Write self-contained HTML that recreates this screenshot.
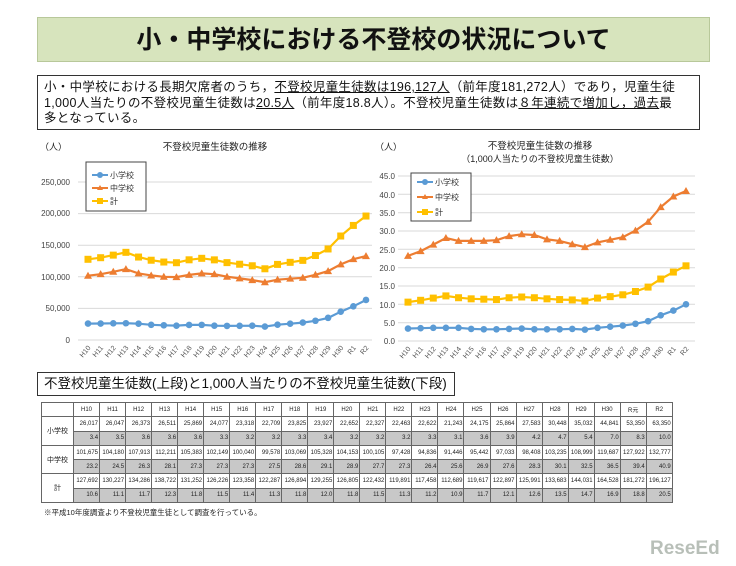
<!DOCTYPE html>
<html><head><meta charset="utf-8">
<style>
body{margin:0;width:736px;height:566px;background:#fff;font-family:"Liberation Sans","Noto Sans CJK JP",sans-serif;position:relative;overflow:hidden}
.title{position:absolute;left:37px;top:17px;width:673px;height:45px;background:#d7e4bd;border:1px solid #b8c89a;box-sizing:border-box;text-align:center;font-size:25px;font-weight:bold;line-height:44px;color:#111}
.sum{position:absolute;left:37px;top:75px;width:663px;height:55px;border:1.5px solid #333;box-sizing:border-box;font-size:12.5px;line-height:15.5px;padding:4px 6px;color:#111;white-space:nowrap;letter-spacing:0.3px}
.sum u{text-decoration:underline}
.th{position:absolute;left:37px;top:372px;width:418px;height:24px;border:1.5px solid #333;box-sizing:border-box;font-size:13.5px;line-height:21px;padding-left:6px;color:#111;white-space:nowrap}
table{position:absolute;left:41px;top:402px;border-collapse:collapse;font-size:6px;color:#222;table-layout:fixed;width:631px}
td{border:1px solid #666;height:13.3px;padding:0 1px;text-align:right;overflow:hidden;white-space:nowrap}
td.h{text-align:center}
td.l{text-align:center;font-size:7px}
tr.g td:not(.l){background:#c8c8c8}
.note{position:absolute;left:44px;top:507px;font-size:7.5px;color:#222}
.logo{position:absolute;left:650px;top:538px;font-size:19px;font-weight:bold;color:#b8bfb8}
</style></head><body>
<div class="title">小・中学校における不登校の状況について</div>
<div class="sum">小・中学校における長期欠席者のうち，<u>不登校児童生徒数は196,127人</u>（前年度181,272人）であり，児童生徒<br>1,000人当たりの不登校児童生徒数は<u>20.5人</u>（前年度18.8人）。不登校児童生徒数は<u>８年連続で増加し，過去</u>最<br>多となっている。</div>

<svg width="736" height="566" style="position:absolute;left:0;top:0" font-family="Liberation Sans, Noto Sans CJK JP, sans-serif">
<g stroke="#d9d9d9" stroke-width="1">
<line x1="78" x2="372" y1="340" y2="340"/><line x1="78" x2="372" y1="308.4" y2="308.4"/><line x1="78" x2="372" y1="276.8" y2="276.8"/><line x1="78" x2="372" y1="245.2" y2="245.2"/><line x1="78" x2="372" y1="213.6" y2="213.6"/><line x1="78" x2="372" y1="182" y2="182"/>
<line x1="398" x2="695" y1="341" y2="341"/><line x1="398" x2="695" y1="322.7" y2="322.7"/><line x1="398" x2="695" y1="304.3" y2="304.3"/><line x1="398" x2="695" y1="286" y2="286"/><line x1="398" x2="695" y1="267.7" y2="267.7"/><line x1="398" x2="695" y1="249.3" y2="249.3"/><line x1="398" x2="695" y1="231" y2="231"/><line x1="398" x2="695" y1="212.7" y2="212.7"/><line x1="398" x2="695" y1="194.3" y2="194.3"/><line x1="398" x2="695" y1="176" y2="176"/>
</g>
<g font-size="8" fill="#444" text-anchor="end">
<text x="70" y="343">0</text><text x="70" y="311">50,000</text><text x="70" y="280">100,000</text><text x="70" y="248">150,000</text><text x="70" y="216">200,000</text><text x="70" y="185">250,000</text>
<text x="395" y="344">0.0</text><text x="395" y="326">5.0</text><text x="395" y="308">10.0</text><text x="395" y="289">15.0</text><text x="395" y="271">20.0</text><text x="395" y="253">25.0</text><text x="395" y="234">30.0</text><text x="395" y="216">35.0</text><text x="395" y="198">40.0</text><text x="395" y="179">45.0</text>
</g>
<g font-size="9" fill="#222">
<text x="40" y="150">（人）</text><text x="375" y="150">（人）</text>
<text x="215" y="150" text-anchor="middle" font-size="9.5">不登校児童生徒数の推移</text>
<text x="540" y="149" text-anchor="middle" font-size="9.5">不登校児童生徒数の推移</text>
<text x="540" y="162" text-anchor="middle">（1,000人当たりの不登校児童生徒数）</text>
</g>
<g id="series"></g>
<g font-size="8" fill="#333">
<rect x="86" y="162" width="60" height="49" fill="#fff" stroke="#444"/>
<line x1="92" x2="108" y1="175" y2="175" stroke="#5b9bd5" stroke-width="2"/><circle cx="100" cy="175" r="3" fill="#5b9bd5"/><text x="110" y="178">小学校</text>
<line x1="92" x2="108" y1="188" y2="188" stroke="#ed7d31" stroke-width="2"/><path d="M100 185l3 5h-6z" fill="#ed7d31"/><text x="110" y="191">中学校</text>
<line x1="92" x2="108" y1="201" y2="201" stroke="#ffc000" stroke-width="2"/><rect x="97" y="198" width="6" height="6" fill="#ffc000"/><text x="110" y="204">計</text>
<rect x="411" y="173" width="60" height="48" fill="#fff" stroke="#444"/>
<line x1="417" x2="433" y1="182" y2="182" stroke="#5b9bd5" stroke-width="2"/><circle cx="425" cy="182" r="3" fill="#5b9bd5"/><text x="435" y="185">小学校</text>
<line x1="417" x2="433" y1="197" y2="197" stroke="#ed7d31" stroke-width="2"/><path d="M425 194l3 5h-6z" fill="#ed7d31"/><text x="435" y="200">中学校</text>
<line x1="417" x2="433" y1="212" y2="212" stroke="#ffc000" stroke-width="2"/><rect x="422" y="209" width="6" height="6" fill="#ffc000"/><text x="435" y="215">計</text>
</g>
<g font-size="7" fill="#555" text-anchor="end">
<text transform="translate(91,348) rotate(-50)">H10</text><text transform="translate(103.6,348) rotate(-50)">H11</text><text transform="translate(116.3,348) rotate(-50)">H12</text><text transform="translate(128.9,348) rotate(-50)">H13</text><text transform="translate(141.5,348) rotate(-50)">H14</text><text transform="translate(154.2,348) rotate(-50)">H15</text><text transform="translate(166.8,348) rotate(-50)">H16</text><text transform="translate(179.5,348) rotate(-50)">H17</text><text transform="translate(192.1,348) rotate(-50)">H18</text><text transform="translate(204.7,348) rotate(-50)">H19</text><text transform="translate(217.4,348) rotate(-50)">H20</text><text transform="translate(230,348) rotate(-50)">H21</text><text transform="translate(242.6,348) rotate(-50)">H22</text><text transform="translate(255.3,348) rotate(-50)">H23</text><text transform="translate(267.9,348) rotate(-50)">H24</text><text transform="translate(280.5,348) rotate(-50)">H25</text><text transform="translate(293.2,348) rotate(-50)">H26</text><text transform="translate(305.8,348) rotate(-50)">H27</text><text transform="translate(318.5,348) rotate(-50)">H28</text><text transform="translate(331.1,348) rotate(-50)">H29</text><text transform="translate(343.7,348) rotate(-50)">H30</text><text transform="translate(356.4,348) rotate(-50)">R1</text><text transform="translate(369,348) rotate(-50)">R2</text>
<text transform="translate(411,349) rotate(-50)">H10</text><text transform="translate(423.6,349) rotate(-50)">H11</text><text transform="translate(436.3,349) rotate(-50)">H12</text><text transform="translate(448.9,349) rotate(-50)">H13</text><text transform="translate(461.5,349) rotate(-50)">H14</text><text transform="translate(474.2,349) rotate(-50)">H15</text><text transform="translate(486.8,349) rotate(-50)">H16</text><text transform="translate(499.5,349) rotate(-50)">H17</text><text transform="translate(512.1,349) rotate(-50)">H18</text><text transform="translate(524.7,349) rotate(-50)">H19</text><text transform="translate(537.4,349) rotate(-50)">H20</text><text transform="translate(550,349) rotate(-50)">H21</text><text transform="translate(562.6,349) rotate(-50)">H22</text><text transform="translate(575.3,349) rotate(-50)">H23</text><text transform="translate(587.9,349) rotate(-50)">H24</text><text transform="translate(600.5,349) rotate(-50)">H25</text><text transform="translate(613.2,349) rotate(-50)">H26</text><text transform="translate(625.8,349) rotate(-50)">H27</text><text transform="translate(638.5,349) rotate(-50)">H28</text><text transform="translate(651.1,349) rotate(-50)">H29</text><text transform="translate(663.7,349) rotate(-50)">H30</text><text transform="translate(676.4,349) rotate(-50)">R1</text><text transform="translate(689,349) rotate(-50)">R2</text>
</g>
</svg>

<div class="th">不登校児童生徒数(上段)と1,000人当たりの不登校児童生徒数(下段)</div>
<table>
<colgroup><col style="width:32px"><col span="23" style="width:26.04px"></colgroup>
<tr><td class="l"></td><td class="h">H10</td><td class="h">H11</td><td class="h">H12</td><td class="h">H13</td><td class="h">H14</td><td class="h">H15</td><td class="h">H16</td><td class="h">H17</td><td class="h">H18</td><td class="h">H19</td><td class="h">H20</td><td class="h">H21</td><td class="h">H22</td><td class="h">H23</td><td class="h">H24</td><td class="h">H25</td><td class="h">H26</td><td class="h">H27</td><td class="h">H28</td><td class="h">H29</td><td class="h">H30</td><td class="h">R元</td><td class="h">R2</td></tr>
<tr><td class="l" rowspan="2" style="background:#fff">小学校</td><td>26,017</td><td>26,047</td><td>26,373</td><td>26,511</td><td>25,869</td><td>24,077</td><td>23,318</td><td>22,709</td><td>23,825</td><td>23,927</td><td>22,652</td><td>22,327</td><td>22,463</td><td>22,622</td><td>21,243</td><td>24,175</td><td>25,864</td><td>27,583</td><td>30,448</td><td>35,032</td><td>44,841</td><td>53,350</td><td>63,350</td></tr>
<tr class="g"><td>3.4</td><td>3.5</td><td>3.6</td><td>3.6</td><td>3.6</td><td>3.3</td><td>3.2</td><td>3.2</td><td>3.3</td><td>3.4</td><td>3.2</td><td>3.2</td><td>3.2</td><td>3.3</td><td>3.1</td><td>3.6</td><td>3.9</td><td>4.2</td><td>4.7</td><td>5.4</td><td>7.0</td><td>8.3</td><td>10.0</td></tr>
<tr><td class="l" rowspan="2" style="background:#fff">中学校</td><td>101,675</td><td>104,180</td><td>107,913</td><td>112,211</td><td>105,383</td><td>102,149</td><td>100,040</td><td>99,578</td><td>103,069</td><td>105,328</td><td>104,153</td><td>100,105</td><td>97,428</td><td>94,836</td><td>91,446</td><td>95,442</td><td>97,033</td><td>98,408</td><td>103,235</td><td>108,999</td><td>119,687</td><td>127,922</td><td>132,777</td></tr>
<tr class="g"><td>23.2</td><td>24.5</td><td>26.3</td><td>28.1</td><td>27.3</td><td>27.3</td><td>27.3</td><td>27.5</td><td>28.6</td><td>29.1</td><td>28.9</td><td>27.7</td><td>27.3</td><td>26.4</td><td>25.6</td><td>26.9</td><td>27.6</td><td>28.3</td><td>30.1</td><td>32.5</td><td>36.5</td><td>39.4</td><td>40.9</td></tr>
<tr><td class="l" rowspan="2" style="background:#fff">計</td><td>127,692</td><td>130,227</td><td>134,286</td><td>138,722</td><td>131,252</td><td>126,226</td><td>123,358</td><td>122,287</td><td>126,894</td><td>129,255</td><td>126,805</td><td>122,432</td><td>119,891</td><td>117,458</td><td>112,689</td><td>119,617</td><td>122,897</td><td>125,991</td><td>133,683</td><td>144,031</td><td>164,528</td><td>181,272</td><td>196,127</td></tr>
<tr class="g"><td>10.6</td><td>11.1</td><td>11.7</td><td>12.3</td><td>11.8</td><td>11.5</td><td>11.4</td><td>11.3</td><td>11.8</td><td>12.0</td><td>11.8</td><td>11.5</td><td>11.3</td><td>11.2</td><td>10.9</td><td>11.7</td><td>12.1</td><td>12.6</td><td>13.5</td><td>14.7</td><td>16.9</td><td>18.8</td><td>20.5</td></tr>
</table>
<div class="note">※平成10年度調査より不登校児童生徒として調査を行っている。</div>
<div class="logo">ReseEd</div>

<script>
var E=[26017,26047,26373,26511,25869,24077,23318,22709,23825,23927,22652,22327,22463,22622,21243,24175,25864,27583,30448,35032,44841,53350,63350];
var M=[101675,104180,107913,112211,105383,102149,100040,99578,103069,105328,104153,100105,97428,94836,91446,95442,97033,98408,103235,108999,119687,127922,132777];
var T=[127692,130227,134286,138722,131252,126226,123358,122287,126894,129255,126805,122432,119891,117458,112689,119617,122897,125991,133683,144031,164528,181272,196127];
var e=[3.4,3.5,3.6,3.6,3.6,3.3,3.2,3.2,3.3,3.4,3.2,3.2,3.2,3.3,3.1,3.6,3.9,4.2,4.7,5.4,7.0,8.3,10.0];
var m=[23.2,24.5,26.3,28.1,27.3,27.3,27.3,27.5,28.6,29.1,28.9,27.7,27.3,26.4,25.6,26.9,27.6,28.3,30.1,32.5,36.5,39.4,40.9];
var t=[10.6,11.1,11.7,12.3,11.8,11.5,11.4,11.3,11.8,12.0,11.8,11.5,11.3,11.2,10.9,11.7,12.1,12.6,13.5,14.7,16.9,18.8,20.5];
var g=document.getElementById("series"),h="";
function ser(d,x0,y0,sc,col,mk){var p=[],mks="";d.forEach(function(v,i){var x=x0+i*12.636,y=y0-v*sc;p.push(x.toFixed(1)+","+y.toFixed(1));
if(mk=="c")mks+='<circle cx="'+x+'" cy="'+y+'" r="3.3" fill="'+col+'"/>';
else if(mk=="t")mks+='<path d="M'+x+' '+(y-4)+'l4 7h-8z" fill="'+col+'"/>';
else mks+='<rect x="'+(x-3.5)+'" y="'+(y-3.5)+'" width="7" height="7" fill="'+col+'"/>';});
h+='<polyline points="'+p.join(" ")+'" fill="none" stroke="'+col+'" stroke-width="2.2"/>'+mks;}
var s1=31.6/50000,s2=165/45;
ser(E,88,340,s1,"#5b9bd5","c");ser(M,88,340,s1,"#ed7d31","t");ser(T,88,340,s1,"#ffc000","s");
ser(e,408,341,s2,"#5b9bd5","c");ser(m,408,341,s2,"#ed7d31","t");ser(t,408,341,s2,"#ffc000","s");
g.innerHTML=h;
</script>
</body></html>
